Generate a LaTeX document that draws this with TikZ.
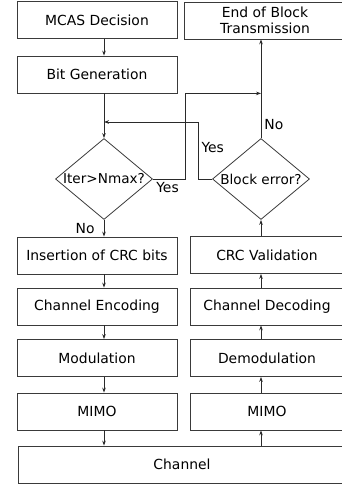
\documentclass[tikz,border=0pt]{standalone}
\usepackage{fontspec}
\setmainfont{DejaVu Sans}
\usepackage{xcolor}
\usepackage{tikz}
\usetikzlibrary{arrows.meta,positioning,shapes.geometric}
\definecolor{EdgeGray}  {HTML}{3A3A3A}
\definecolor{WireGray}  {HTML}{2A2A2A}
\tikzset{
  blk/.style={draw=EdgeGray,line width=0.8pt,rectangle,minimum width=160pt,
              minimum height=37pt,inner sep=2pt,font=\fontsize{13.9}{16}\selectfont},
  decide/.style={draw=EdgeGray,line width=0.8pt,diamond,minimum width=97pt,
                 minimum height=81pt,inner sep=0pt,font=\fontsize{13.6}{16}\selectfont},
  flow/.style={draw=WireGray,line width=0.8pt,-{Stealth[length=5pt,width=3.6pt]}},
  tag/.style={font=\fontsize{13.9}{16}\selectfont,inner sep=3pt}
}

\begin{document}
\begin{tikzpicture}[x=1pt,y=-1pt]
    \useasboundingbox (0,0) rectangle (342,487);
    \clip (0,0) rectangle (342,487);

    % transmit chain
    \node[blk] (mcas)   at (97,20)    {MCAS Decision};
    \node[blk] (bitgen) at (97,74.5)  {Bit Generation};
    \node[decide] (iter) at (104,179) {\makebox[0pt]{Iter>Nmax?}};
    \node[blk] (crcin)  at (97,255.5) {Insertion of CRC bits};
    \node[blk] (enc)    at (97,306.5) {Channel Encoding};
    \node[blk] (mod)    at (97,358)   {Modulation};
    \node[blk] (mimotx) at (97,411.5) {MIMO};
    \node[blk,minimum width=328pt] (chan) at (182,464.5) {Channel};

    % receive chain
    \node[blk,minimum width=162pt,align=center] (endblk) at (265,20.5) {End of Block\\Transmission};
    \node[decide] (blockerr) at (261,179) {\makebox[0pt]{Block error?}};
    \node[blk,minimum width=154pt] (crcchk) at (267,255)   {CRC Validation};
    \node[blk,minimum width=154pt] (dec)    at (267,306.5) {Channel Decoding};
    \node[blk,minimum width=154pt] (demod)  at (267,358)   {Demodulation};
    \node[blk,minimum width=154pt] (mimorx) at (267,411.5) {MIMO};

    \coordinate (loopin) at (104,122);

    \draw[flow] (mcas.south -| iter.north) -- (bitgen.north -| iter.north);
    \draw[flow] (bitgen.south -| iter.north) -- (iter.north);
    \draw[flow] (iter.south) -- node[tag,left=6pt]{No} (crcin.north -| iter.south);
    \draw[flow] (crcin.south -| iter.south) -- (enc.north -| iter.south);
    \draw[flow] (enc.south -| iter.south) -- (mod.north -| iter.south);
    \draw[flow] (mod.south -| iter.south) -- (mimotx.north -| iter.south);
    \draw[flow] (mimotx.south -| iter.south) -- (chan.north -| iter.south);

    % loops around the two decisions
    \draw[flow] (iter.east) node[tag,anchor=north west]{Yes}
        -- ++(32,0) |- (blockerr.north |- bitgen.south);
    \draw[flow] (blockerr.west) -- ++(-14,0)
        |- node[tag,pos=0.28,right]{Yes} (loopin);
    \draw[flow] (blockerr.north) -- node[tag,pos=0.14,right]{No} (endblk.south -| blockerr.north);

    \draw[flow] (chan.north -| blockerr.south) -- (mimorx.south -| blockerr.south);
    \draw[flow] (mimorx.north -| blockerr.south) -- (demod.south -| blockerr.south);
    \draw[flow] (demod.north -| blockerr.south) -- (dec.south -| blockerr.south);
    \draw[flow] (dec.north -| blockerr.south) -- (crcchk.south -| blockerr.south);
    \draw[flow] (crcchk.north -| blockerr.south) -- (blockerr.south);
\end{tikzpicture}
\end{document}
